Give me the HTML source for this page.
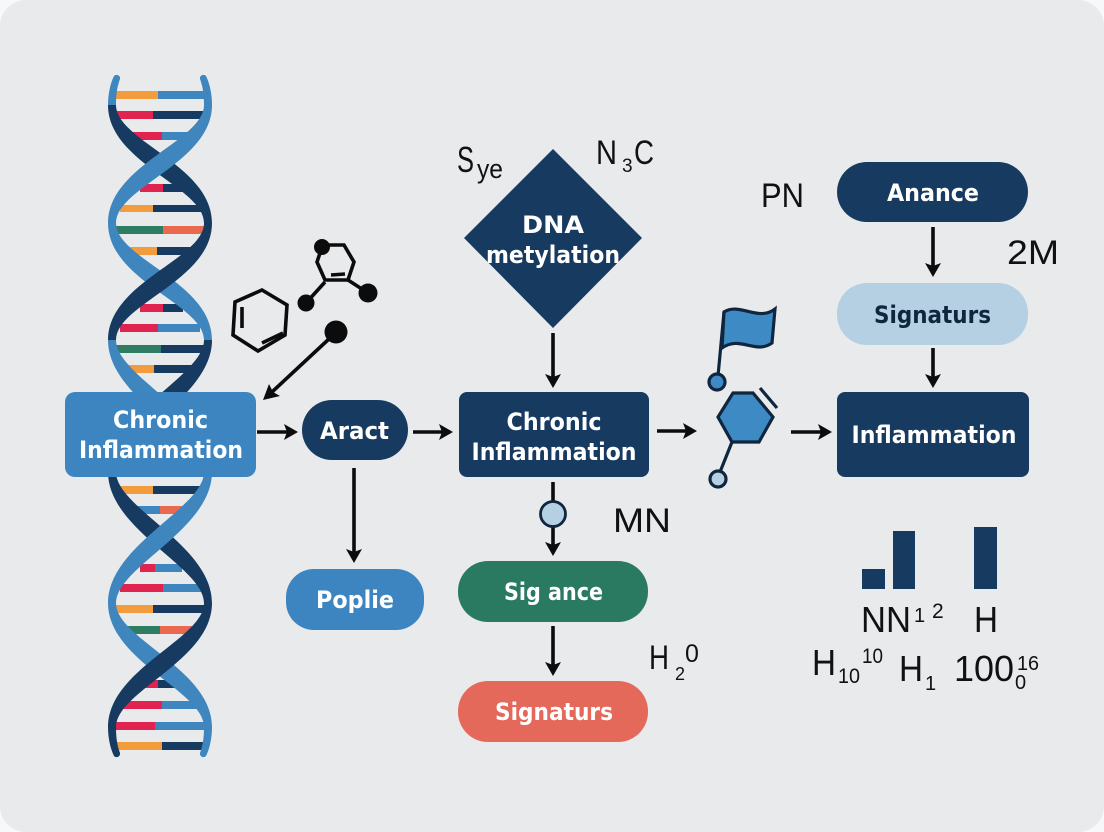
<!DOCTYPE html>
<html><head><meta charset="utf-8"><style>
html,body{margin:0;padding:0;background:#f7f8f9;width:1104px;height:832px;overflow:hidden}
svg{display:block}
text{font-family:"Liberation Sans",sans-serif}
.w{font-family:"DejaVu Sans",sans-serif;font-weight:700;fill:#fff;font-size:24px;text-anchor:middle}
.k{fill:#111;font-size:34px}
.a{stroke:#0c0c0c;stroke-width:3.6;fill:none}
.h{fill:#0c0c0c}
</style></head><body>
<svg width="1104" height="832" viewBox="0 0 1104 832" xmlns="http://www.w3.org/2000/svg">
<rect x="0" y="0" width="1104" height="832" rx="26" fill="#e8eaec"/>
<!-- rungs -->
<g>
<path fill="#f39c3d" d="M113 91h45v8h-45zM120 205h33v7h-33zM125 247h32v8h-32zM125 365h29v8h-29zM113 486h40v8h-40zM113 605h40v8h-40zM116 742h46v8h-46z"/>
<path fill="#3f86bf" d="M158 91h47v8h-47zM162 132h28v8h-28zM158 324h42v8h-42zM127 506h33v8h-33zM155 564h27v8h-27zM163 584h42v8h-42zM162 701h38v8h-38zM155 722h52v8h-52z"/>
<path fill="#e0234f" d="M115 111h38v8h-38zM130 132h32v8h-32zM140 184h23v8h-23zM140 304h23v8h-23zM120 324h38v8h-38zM140 564h15v8h-15zM120 584h43v8h-43zM140 680h18v8h-18zM122 701h40v8h-40zM113 722h42v8h-42z"/>
<path fill="#173a60" d="M153 111h50v8h-50zM163 184h22v8h-22zM153 205h50v7h-50zM157 247h38v8h-38zM163 304h20v8h-20zM161 345h44v8h-44zM154 365h41v8h-41zM153 486h52v8h-52zM153 605h54v8h-54zM158 680h22v8h-22zM162 742h43v8h-43z"/>
<path fill="#2e7d62" d="M113 226h50v8h-50zM113 345h48v8h-48zM127 626h33v8h-33z"/>
<path fill="#e8694f" d="M163 226h42v8h-42zM160 506h32v8h-32zM160 626h32v8h-32z"/>
</g>
<!-- strands -->
<g>
<path fill="#3f86bf" d="M108 105C108 95 110 84 114 76A3.5 3.5 0 0 1 120 79C117 87 116 95 116 105Z"/>
<path fill="#3f86bf" d="M212 105C212 95 210 84 206 76A3.5 3.5 0 0 0 200 79C203 87 204 95 204 105Z"/>
<path fill="#173a60" d="M108 727C108 737 110 748 114 756A3.5 3.5 0 0 0 120 753C117 745 116 737 116 727Z"/>
<path fill="#3f86bf" d="M212 727C212 737 210 748 206 756A3.5 3.5 0 0 1 200 753C203 745 204 737 204 727Z"/>
<path fill="#173a60" d="M108 105C108 163 204 187 204 223L212 223C212 165 116 141 116 105Z"/>
<path fill="#3f86bf" d="M212 105C212 163 116 187 116 223L108 223C108 165 204 141 204 105Z"/>
<path fill="#3f86bf" d="M108 223C108 281 204 304 204 340L212 340C212 282 116 259 116 223Z"/>
<path fill="#173a60" d="M212 223C212 281 116 304 116 340L108 340C108 282 204 259 204 223Z"/>
<path fill="#3f86bf" d="M108 340C108 398 204 436 204 472L212 472C212 414 116 376 116 340Z"/>
<path fill="#173a60" d="M212 340C212 398 116 436 116 472L108 472C108 414 204 376 204 340Z"/>
<path fill="#173a60" d="M108 472C108 530 204 567 204 603L212 603C212 545 116 508 116 472Z"/>
<path fill="#3f86bf" d="M212 472C212 530 116 567 116 603L108 603C108 545 204 508 204 472Z"/>
<path fill="#3f86bf" d="M108 603C108 661 204 691 204 727L212 727C212 669 116 639 116 603Z"/>
<path fill="#173a60" d="M212 603C212 661 116 691 116 727L108 727C108 669 204 639 204 603Z"/>
</g>
<!-- nodes -->
<rect x="65" y="392" width="191" height="85" rx="10" fill="#3d85c0"/>
<text class="w" x="160.500" y="428" textLength="95" lengthAdjust="spacingAndGlyphs">Chronic</text>
<text class="w" x="161" y="458" textLength="164" lengthAdjust="spacingAndGlyphs">Inflammation</text>
<rect x="302" y="400" width="106" height="60" rx="30" fill="#173a60"/>
<text class="w" x="354.500" y="439" textLength="69" lengthAdjust="spacingAndGlyphs">Aract</text>
<rect x="459" y="392" width="190" height="85" rx="8" fill="#173a60"/>
<text class="w" x="554" y="430" textLength="95" lengthAdjust="spacingAndGlyphs">Chronic</text>
<text class="w" x="554" y="460" textLength="165" lengthAdjust="spacingAndGlyphs">Inflammation</text>
<rect x="837" y="392" width="192" height="85" rx="8" fill="#173a60"/>
<text class="w" x="934" y="443" textLength="165" lengthAdjust="spacingAndGlyphs">Inflammation</text>
<rect x="286" y="569" width="138" height="61" rx="28" fill="#3d85c0"/>
<text class="w" x="355" y="608" textLength="78" lengthAdjust="spacingAndGlyphs">Poplie</text>
<rect x="458" y="561" width="190" height="61" rx="30" fill="#2a7a62"/>
<text class="w" x="553.500" y="600" textLength="99" lengthAdjust="spacingAndGlyphs">Sig ance</text>
<rect x="458" y="681" width="190" height="61" rx="30" fill="#e4695a"/>
<text class="w" x="554" y="720" textLength="118" lengthAdjust="spacingAndGlyphs">Signaturs</text>
<rect x="837" y="162" width="191" height="60" rx="30" fill="#173a60"/>
<text class="w" x="933" y="201" textLength="92" lengthAdjust="spacingAndGlyphs">Anance</text>
<rect x="837" y="283" width="191" height="62" rx="30" fill="#b5d0e2"/>
<text class="w" x="932.500" y="323" textLength="117" lengthAdjust="spacingAndGlyphs" style="fill:#10263f">Signaturs</text>
<polygon points="553,149 642,238 553,328 464,238" fill="#173a60"/>
<text class="w" x="553" y="233" textLength="62" lengthAdjust="spacingAndGlyphs">DNA</text>
<text class="w" x="553" y="263" textLength="134" lengthAdjust="spacingAndGlyphs">metylation</text>
<!-- molecules -->
<g fill="none" stroke="#0c0c0c" stroke-width="3.6">
<path d="M262 290L287 305L285 335L258 351L233 335L235 302Z"/>
<path d="M242 307V328M262 343L283 333"/>
<path d="M328 245H344L354 262L348 280H325L317 262L322 247"/>
<path d="M331 275L345 274M325 282L306 303M348 280L368 293"/>
</g>
<g fill="#0c0c0c">
<circle cx="322" cy="247" r="8"/><circle cx="306" cy="303" r="8.500"/><circle cx="368" cy="293" r="9.500"/><circle cx="336" cy="332" r="11.500"/>
</g>
<path class="a" d="M330 338L272 392"/>
<polygon class="h" points="263,400 269,384 273,392 280,396"/>
<!-- flag and hexagon -->
<g stroke="#10263f" stroke-width="3.200">
<path fill="none" d="M718 376L724 312"/>
<path fill="#3d8ac4" d="M724 312C740 302 758 322 775 309L772 343C755 355 740 335 722 348Z"/>
<circle cx="717" cy="382" r="8" fill="#3d8ac4"/>
<path fill="#3d8ac4" d="M733 393H753L773 417L759 442H732L718 417Z"/>
<path fill="none" d="M760 388L777 408M732 442L720 472"/>
<circle cx="718" cy="479" r="8" fill="#b5d0e2"/>
</g>
<!-- arrows -->
<g class="a">
<path d="M257 432H288M413 432H444M657 431H688M791 432H823M354 468V554M553 333V379M553 482V503M553 527V547M553 626V667M933 227V268M933 348V379"/>
</g>
<g class="h">
<polygon points="298,432 284,424 287,432 284,440"/><polygon points="453,432 439,424 442,432 439,440"/><polygon points="697,431 683,423 686,431 683,439"/><polygon points="832,432 818,424 821,432 818,440"/>
<polygon points="354,563 346,549 354,552 362,549"/><polygon points="553,388 545,374 553,377 561,374"/><polygon points="553,556 545,542 553,545 561,542"/><polygon points="553,676 545,662 553,665 561,662"/><polygon points="933,277 925,263 933,266 941,263"/><polygon points="933,388 925,374 933,377 941,374"/>
</g>
<circle cx="553" cy="514" r="12.500" fill="#b5d0e2" stroke="#10263f" stroke-width="2.800"/>
<!-- bars -->
<path fill="#173a60" d="M862 569h23v20h-23zM893 531h22v58h-22zM974 527h23v62h-23z"/>
<!-- labels -->
<text class="k" x="457" y="172" style="font-size:36px" textLength="17" lengthAdjust="spacingAndGlyphs">S</text>
<text class="k" x="477" y="178" style="font-size:27px" textLength="26" lengthAdjust="spacingAndGlyphs">ye</text>
<text class="k" x="596" y="164" textLength="21" lengthAdjust="spacingAndGlyphs">N</text>
<text class="k" x="622" y="172" style="font-size:19px">3</text>
<text class="k" x="634" y="164" textLength="20" lengthAdjust="spacingAndGlyphs">C</text>
<text class="k" x="761" y="207" textLength="43" lengthAdjust="spacingAndGlyphs">PN</text>
<text class="k" x="1007" y="264" textLength="52" lengthAdjust="spacingAndGlyphs">2M</text>
<text class="k" x="613" y="532" textLength="58" lengthAdjust="spacingAndGlyphs">MN</text>
<text class="k" x="649" y="669" textLength="20" lengthAdjust="spacingAndGlyphs">H</text>
<text class="k" x="675" y="680" style="font-size:18px">2</text>
<text class="k" x="685" y="662" style="font-size:25px">0</text>
<text class="k" x="861" y="632" style="font-size:36px" textLength="50" lengthAdjust="spacingAndGlyphs">NN</text>
<text class="k" x="914" y="622" style="font-size:20px">1</text>
<text class="k" x="932" y="618" style="font-size:21px">2</text>
<text class="k" x="974" y="632" style="font-size:36px" textLength="24" lengthAdjust="spacingAndGlyphs">H</text>
<text class="k" x="812" y="675" style="font-size:36px" textLength="24" lengthAdjust="spacingAndGlyphs">H</text>
<text class="k" x="838" y="683" style="font-size:21px" textLength="22" lengthAdjust="spacingAndGlyphs">10</text>
<text class="k" x="862" y="663" style="font-size:21px" textLength="21" lengthAdjust="spacingAndGlyphs">10</text>
<text class="k" x="899" y="681" style="font-size:36px" textLength="24" lengthAdjust="spacingAndGlyphs">H</text>
<text class="k" x="925" y="690" style="font-size:20px">1</text>
<text class="k" x="954" y="681" style="font-size:36px" textLength="60" lengthAdjust="spacingAndGlyphs">100</text>
<text class="k" x="1017" y="670" style="font-size:20px" textLength="22" lengthAdjust="spacingAndGlyphs">16</text>
<text class="k" x="1015" y="689" style="font-size:20px">0</text>
</svg>
</body></html>
